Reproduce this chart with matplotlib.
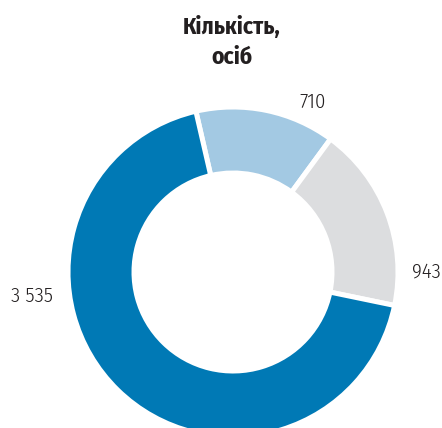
import matplotlib
matplotlib.use("Agg")
import matplotlib.pyplot as plt

# значення сегментів (за годинниковою стрілкою від верху)
labels = ["710", "943", "3 535"]
values = [710, 943, 3535]
colors = ["#a3c9e3", "#dcdddf", "#0079b5"]
title = "Кількість,\nосіб"

plt.rcParams['font.family'] = ['Fira Sans Condensed', 'DejaVu Sans']

W, H = 442, 428
fig = plt.figure(figsize=(W / 100, H / 100), dpi=100)

# центр кільця (233, 272) пікселів, радіус 165
cx, cy, r = 233, 272, 165
ax = fig.add_axes([(cx - r) / W, (H - cy - r) / H, 2 * r / W, 2 * r / H])
ax.pie(values, colors=colors, startangle=103, counterclock=False,
       radius=1.0, wedgeprops=dict(width=0.4, edgecolor='white', linewidth=3.6))
ax.set_xlim(-1, 1)
ax.set_ylim(-1, 1)
ax.set_aspect('equal')
ax.axis('off')

# підписи значень
label_pos = [(0.48, 1.03), (1.17, 0.0), (-1.22, -0.15)]
for txt, (x, y) in zip(labels, label_pos):
    ax.text(x, y, txt, ha='center', va='center', fontsize=15, color='#231f20',
            fontweight=300, clip_on=False)

fig.text(232 / W, 1 - 42 / H, title, ha='center', va='center', fontsize=17,
         fontweight='bold', color='#231f20', linespacing=1.4)

fig.savefig("out.png", dpi=100)
